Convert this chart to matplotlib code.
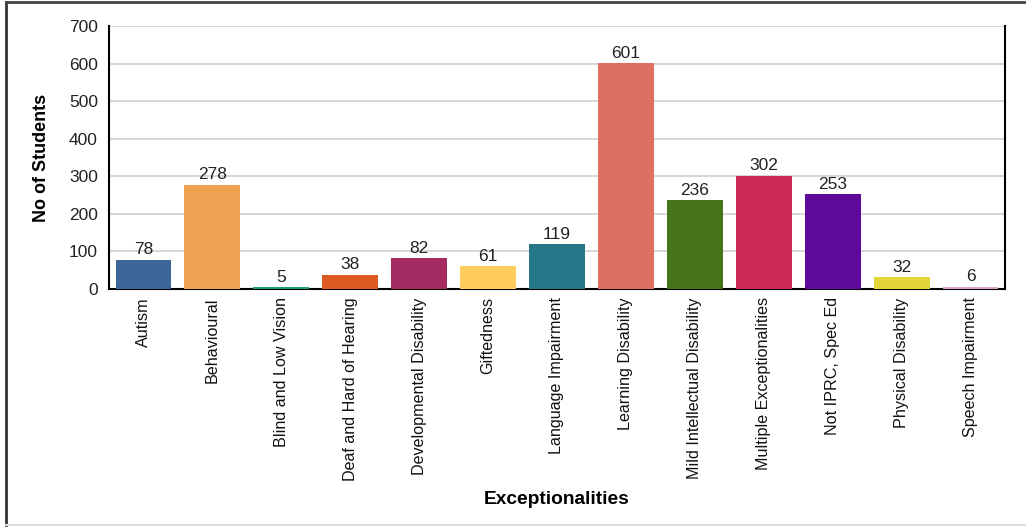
import matplotlib
matplotlib.use("Agg")
import matplotlib.pyplot as plt
from matplotlib.lines import Line2D

plt.rcParams['font.family'] = ['Liberation Sans', 'DejaVu Sans']

categories = ["Autism", "Behavioural", "Blind and Low Vision", "Deaf and Hard of Hearing",
              "Developmental Disability", "Giftedness", "Language Impairment",
              "Learning Disability", "Mild Intellectual Disability",
              "Multiple Exceptionalities", "Not IPRC, Spec Ed", "Physical Disability",
              "Speech Impairment"]
values = [78, 278, 5, 38, 82, 61, 119, 601, 236, 302, 253, 32, 6]
colors = ["#3D6597", "#F0A152", "#1A9B78", "#DF5A22", "#A32B62", "#FECD5E", "#267888",
          "#DE7061", "#45741A", "#CA2856", "#5E0B9B", "#E3D63A", "#E2A2CB"]
yticks = [0, 100, 200, 300, 400, 500, 600, 700]

W, H = 1026, 527
fig = plt.figure(figsize=(W / 100, H / 100), dpi=100)
ax = fig.add_axes([109 / W, 1 - 289 / H, (1005 - 109) / W, (289 - 26) / H])

x = list(range(len(categories)))
ax.bar(x, values, width=0.81, color=colors, zorder=3)
for xi, v in zip(x, values):
    ax.text(xi, v + 6, str(v), ha='center', va='bottom', fontsize=12.5, color='#222222')

ax.set_xlim(-0.5, len(categories) - 0.5)
ax.set_ylim(0, 700)
ax.set_yticks(yticks)
ax.set_yticklabels([str(t) for t in yticks], fontsize=12.5, color='#222222')
ax.set_xticks(x)
ax.set_xticklabels(categories, rotation=90, fontsize=11.6, color='#111111')
ax.tick_params(axis='both', length=0, pad=8)
ax.tick_params(axis='x', pad=6)
ax.grid(axis='y', color='#d0d0d0', linewidth=1.2, zorder=0)
ax.set_axisbelow(True)
for s in ['left', 'bottom', 'right']:
    ax.spines[s].set_color('black')
    ax.spines[s].set_linewidth(1.5)
ax.spines['top'].set_visible(False)

ax.set_ylabel("No of Students", fontsize=13, fontweight='bold')
ax.yaxis.set_label_coords(-(109 - 41) / (1005 - 109), 0.5)
ax.set_xlabel("Exceptionalities", fontsize=13.8, fontweight='bold')
ax.xaxis.set_label_coords(0.5, -(499 - 289) / (289 - 26))
ax.xaxis.label.set_va('center')
ax.yaxis.label.set_va('center')

# outer frame
fig.add_artist(Line2D([6 / W, 6 / W], [1 - 2 / H, 1 - 525 / H], transform=fig.transFigure,
                      color='#333333', linewidth=2))
fig.add_artist(Line2D([6 / W, 1], [1 - 2 / H, 1 - 2 / H], transform=fig.transFigure,
                      color='#444444', linewidth=2))
fig.add_artist(Line2D([6 / W, 1], [1 - 525 / H, 1 - 525 / H], transform=fig.transFigure,
                      color='#dddddd', linewidth=1.5))

fig.savefig("out.png", dpi=100)
